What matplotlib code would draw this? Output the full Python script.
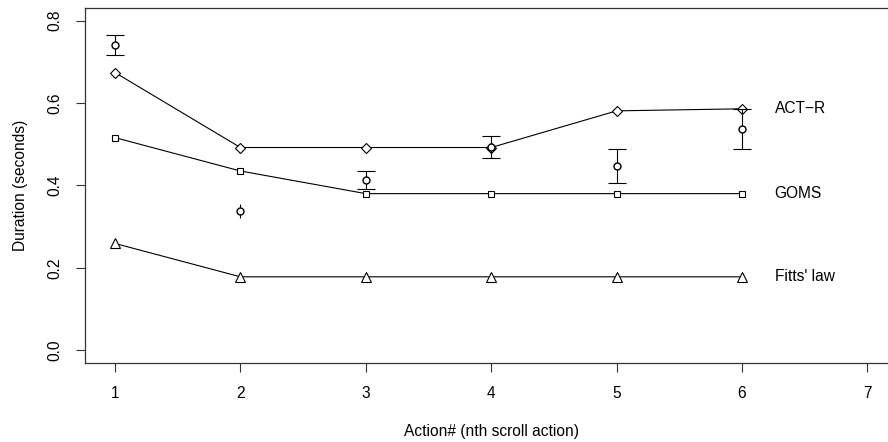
import matplotlib
matplotlib.use("Agg")
import matplotlib.pyplot as plt
import numpy as np

plt.rcParams['font.family'] = ['Liberation Sans', 'DejaVu Sans']

actions = [1, 2, 3, 4, 5, 6]
actr = [0.674, 0.492, 0.492, 0.492, 0.581, 0.586]
goms = [0.516, 0.435, 0.380, 0.380, 0.380, 0.380]
fitts = [0.259, 0.178, 0.178, 0.178, 0.178, 0.178]
observed = [0.741, 0.338, 0.413, 0.494, 0.447, 0.537]
obs_upper = [0.766, 0.354, 0.436, 0.521, 0.488, 0.586]
obs_lower = [0.717, 0.322, 0.391, 0.466, 0.406, 0.489]
model_labels = ["ACT\u2212R", "GOMS", "Fitts' law"]
xticks = [1, 2, 3, 4, 5, 6, 7]
yticks = [0.0, 0.2, 0.4, 0.6, 0.8]

FS = 11.2

fig = plt.figure(figsize=(8.88, 4.42), dpi=100)
ax = fig.add_axes([85.3 / 888, 1 - 363.3 / 442, (897.5 - 85.3) / 888, (363.3 - 7.5) / 442])

lw = 0.8
ax.plot(actions, actr, color='black', lw=lw, marker='D', ms=5.4, mfc='white', mec='black', mew=0.8, zorder=3)
ax.plot(actions, goms, color='black', lw=lw, marker='s', ms=5.0, mfc='white', mec='black', mew=0.8, zorder=3)
ax.plot(actions, fitts, color='black', lw=lw, marker='^', ms=6.5, mfc='white', mec='black', mew=0.8, zorder=3)

# error bars
for x, lo, hi in zip(actions, obs_lower, obs_upper):
    ax.vlines(x, lo, hi, color='black', lw=lw, zorder=4)
    if hi - lo > 0.04:
        ax.plot([x, x], [lo, hi], ls='none', marker='_', ms=13.6, mew=lw, color='black', zorder=4)
ax.plot(actions, observed, ls='none', marker='o', ms=5.0, mfc='white', mec='black', mew=1.0, zorder=5)

# model labels
label_y = [actr[-1], goms[-1], fitts[-1]]
for lab, yv in zip(model_labels, label_y):
    ax.text(6.26, yv, lab, ha='left', va='center', fontsize=FS, color='black')

ax.set_xlim(0.763, 7.24)
ax.set_ylim(-0.032, 0.832)
ax.set_xticks(xticks)
ax.set_xticklabels([str(t) for t in xticks])
ax.set_yticks(yticks)
ax.set_yticklabels([f"{t:.1f}" for t in yticks], rotation=90, va='center')
ax.tick_params(axis='both', length=6.7, width=0.8, labelsize=FS, pad=10.0, color='#333333')
for s in ax.spines.values():
    s.set_linewidth(0.9)
    s.set_color('#333333')

ax.set_xlabel("Action# (nth scroll action)", fontsize=FS, labelpad=16.5)
ax.set_ylabel("Duration (seconds)", fontsize=FS, labelpad=14)

fig.savefig("out.png", dpi=100)
